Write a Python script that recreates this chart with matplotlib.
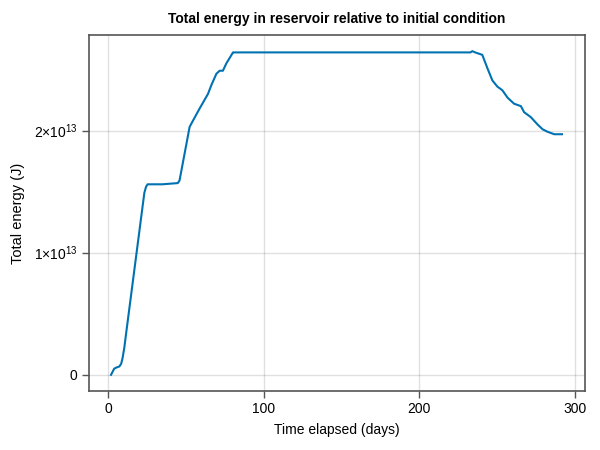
import matplotlib.pyplot as plt
from matplotlib.ticker import FixedLocator, FuncFormatter

# values
days = [2, 3, 4, 5.5, 7.3, 8.5, 9.4, 10.5, 12, 23.4, 24.5, 25.5, 30, 35, 40,
        44.9, 46, 52.5, 54.6, 58.9, 64.3, 66.4, 69.7, 71.8, 73.9, 76.1, 80.4,
        81, 233, 234.2, 236, 240.6, 243.9, 247.1, 250.3, 253.5, 256.8, 261,
        265.4, 267.5, 271.8, 276.1, 279.4, 282.6, 286.8, 291.8]
energy_e13 = [0, 0.025, 0.05, 0.06, 0.068, 0.09, 0.137, 0.22, 0.37, 1.49,
              1.54, 1.56, 1.56, 1.56, 1.565, 1.57, 1.59, 2.03, 2.08, 2.18,
              2.30, 2.37, 2.465, 2.49, 2.49, 2.55, 2.64, 2.64, 2.64, 2.65,
              2.64, 2.62, 2.51, 2.41, 2.36, 2.33, 2.27, 2.22, 2.20, 2.15,
              2.11, 2.05, 2.01, 1.99, 1.97, 1.97]
energy = [e * 1e13 for e in energy_e13]

x_ticks = [0, 100, 200, 300]
y_ticks = [0, 1e13, 2e13]
y_tick_labels = ['0', r'$1{\times}10^{13}$', r'$2{\times}10^{13}$']

plt.rcParams['font.family'] = ['Liberation Sans', 'DejaVu Sans']
plt.rcParams['mathtext.fontset'] = 'custom'
plt.rcParams['mathtext.rm'] = 'Liberation Sans'
plt.rcParams['mathtext.default'] = 'regular'

fig = plt.figure(figsize=(6, 4.5), dpi=100)
ax = fig.add_axes([88.5 / 600, 1 - 391 / 450, 496 / 600, 356 / 450])

ax.plot(days, energy, color='#0072B2', linewidth=1.5)
ax.margins(0.05)

ax.xaxis.set_major_locator(FixedLocator(x_ticks))
ax.yaxis.set_major_locator(FixedLocator(y_ticks))
ax.yaxis.set_major_formatter(FuncFormatter(
    lambda v, p: y_tick_labels[y_ticks.index(v)] if v in y_ticks else ''))

ax.grid(True, color='black', alpha=0.12, linewidth=1)
ax.set_axisbelow(True)
for s in ax.spines.values():
    s.set_color('#555555')
    s.set_linewidth(1.2)
ax.tick_params(direction='out', length=5, width=1, color='#555555',
               labelsize=10, pad=3)

ax.set_xlabel('Time elapsed (days)', fontsize=10, labelpad=5)
ax.set_ylabel('Total energy (J)', fontsize=10.5, labelpad=6)
ax.set_title('Total energy in reservoir relative to initial condition',
             fontsize=10, fontweight='bold', pad=9)

fig.savefig('out.png', dpi=100)
